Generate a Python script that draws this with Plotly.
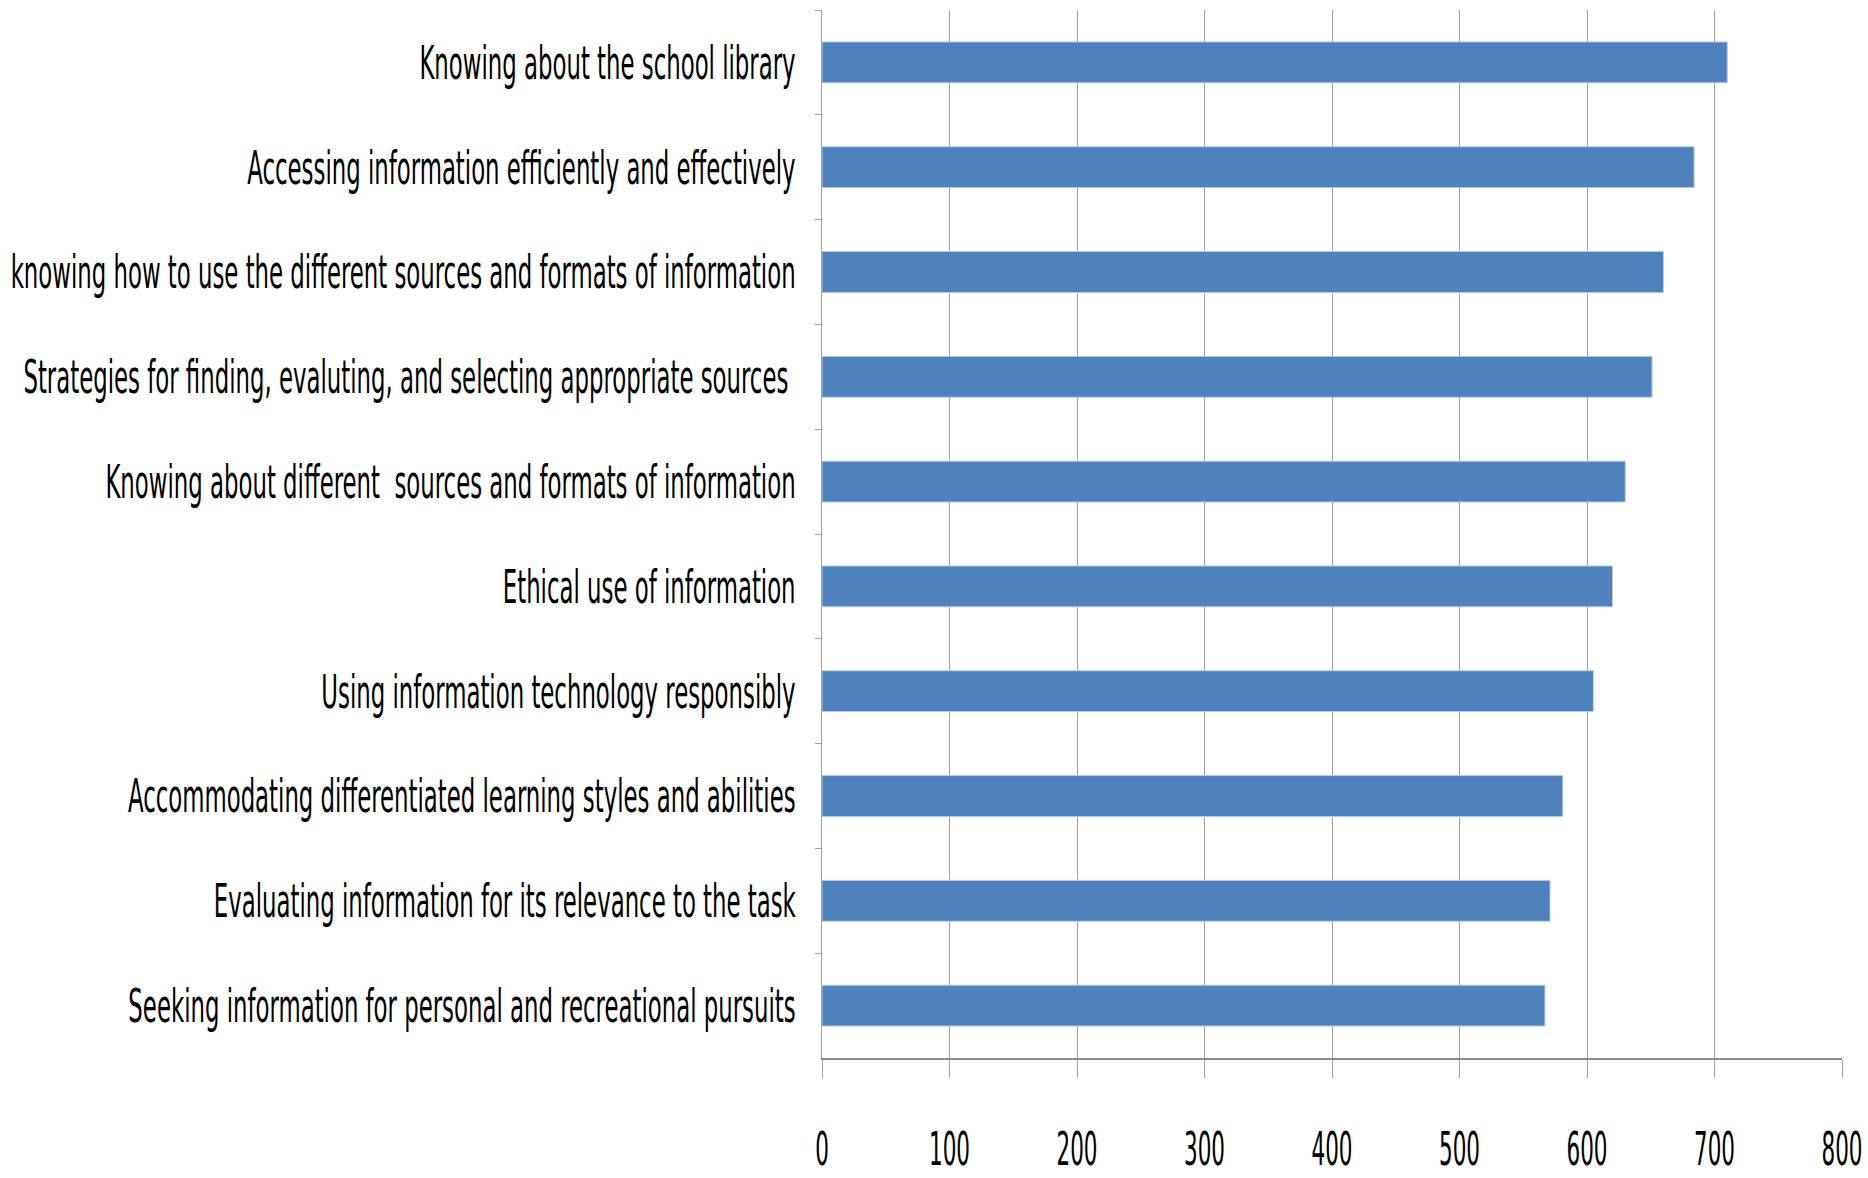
import plotly.graph_objects as go

categories = [
    "Knowing about the school library",
    "Accessing information efficiently and effectively",
    "knowing how to use the different sources and formats of information",
    "Strategies for finding, evaluting, and selecting appropriate sources ",
    "Knowing about different  sources and formats of information",
    "Ethical use of information",
    "Using information technology responsibly",
    "Accommodating differentiated learning styles and abilities",
    "Evaluating information for its relevance to the task",
    "Seeking information for personal and recreational pursuits",
]
values = [710, 684, 660, 651, 630, 620, 605, 581, 571, 567]
x_ticks = [0, 100, 200, 300, 400, 500, 600, 700, 800]

FONT = "DejaVu Sans Condensed, DejaVu Sans, sans-serif"

fig = go.Figure(
    go.Bar(
        x=values,
        y=categories,
        orientation="h",
        marker=dict(color="#4F81BD", line=dict(color="#B8CCE4", width=1)),
    )
)

fig.update_layout(
    width=1868,
    height=1178,
    margin=dict(l=822, r=26, t=10, b=120),
    paper_bgcolor="white",
    plot_bgcolor="white",
    bargap=0.61,
    showlegend=False,
    font=dict(family=FONT, color="black"),
)

fig.update_xaxes(
    range=[0, 800],
    tickvals=x_ticks,
    ticktext=[str(v) for v in x_ticks],
    showgrid=True,
    gridcolor="#A0A0A0",
    gridwidth=1,
    showline=True,
    linecolor="#8C8C8C",
    linewidth=2,
    ticks="outside",
    ticklen=18,
    tickcolor="#A0A0A0",
    tickfont=dict(size=46, family=FONT, color="black"),
    ticklabelstandoff=32,
    ticklabeloverflow="allow",
    zeroline=False,
    automargin=False,
)

fig.update_yaxes(
    autorange="reversed",
    showline=True,
    linecolor="#A0A0A0",
    linewidth=1,
    ticks="outside",
    ticklen=6,
    tickcolor="#A0A0A0",
    tickson="boundaries",
    tickfont=dict(size=47, family=FONT, color="black"),
    ticklabelstandoff=16,
    ticklabeloverflow="allow",
    showgrid=False,
    automargin=False,
)

post = """
var gd = document.getElementById('{plot_id}');
function squeeze(sel, s) {
  gd.querySelectorAll(sel).forEach(function(t){
    var b = t.getBBox();
    var anchor = t.getAttribute('text-anchor') || 'start';
    var ax = anchor === 'end' ? b.x + b.width : (anchor === 'middle' ? b.x + b.width / 2 : b.x);
    var tr = t.getAttribute('transform') || '';
    t.setAttribute('transform', tr + ' translate(' + ax + ',0) scale(' + s + ',1) translate(' + (-ax) + ',0)');
  });
}
squeeze('.ytick text', 0.54);
squeeze('.xtick text', 0.52);
"""

fig.write_html("out.html", post_script=post)
